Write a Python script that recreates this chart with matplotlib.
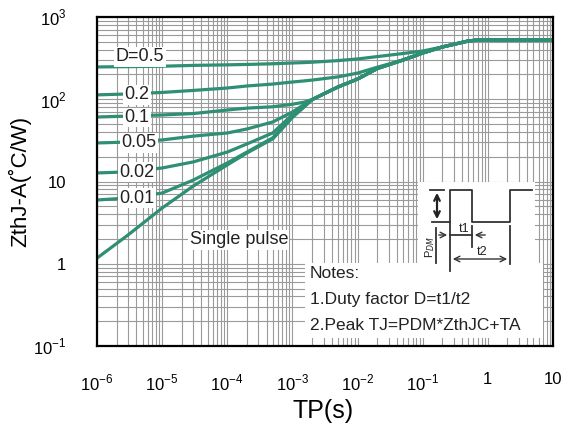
import matplotlib
matplotlib.use('Agg')
import matplotlib.pyplot as plt
import numpy as np

plt.rcParams['font.family'] = ['Liberation Sans', 'DejaVu Sans']
plt.rcParams['mathtext.fontset'] = 'custom'
plt.rcParams['mathtext.rm'] = 'Liberation Sans'

# Datos (TP en s, Zth en C/W)
tp = [1e-6, 3e-6, 1e-5, 3e-5, 1e-4, 2e-4, 5e-4, 1e-3, 1.5e-3, 2e-3, 5e-3,
      1e-2, 2e-2, 5e-2, 0.1, 0.2, 0.5, 0.7, 10]
cola = [432, 511, 525, 525]  # tramo comun a la derecha
zth_05 = [247, 249, 252, 258, 262, 265, 270, 276, 279, 282, 295, 309, 330, 360, 386] + cola
zth_02 = [113, 116, 121, 128, 137, 145, 153, 162, 167, 171, 187, 208, 245, 300, 365] + cola
zth_01 = [60.8, 62.5, 64.4, 67, 74, 78, 81, 87, 92, 99, 141, 176, 236, 300, 365] + cola
zth_005 = [29.4, 30.2, 32, 35.6, 38.9, 43.5, 53, 70, 86, 99, 141, 176, 236, 300, 365] + cola
zth_002 = [12.7, 13.1, 14.6, 17.3, 22.8, 28.6, 39, 65, 83, 99, 141, 176, 236, 300, 365] + cola
zth_001 = [5.96, 6.3, 7.24, 10.4, 16.8, 22.8, 34, 62, 81, 99, 141, 176, 236, 300, 365] + cola
zth_single = [1.17, 2.24, 4.76, 8.8, 15.9, 22.2, 33, 60, 80, 99, 141, 176, 236, 300, 365] + cola

curvas = [zth_05, zth_02, zth_01, zth_005, zth_002, zth_001, zth_single]
etiquetas = ['D=0.5', '0.2', '0.1', '0.05', '0.02', '0.01', 'Single pulse']
pos_etiquetas = [(4.6e-6, 330), (4.1e-6, 113), (4.1e-6, 60), (4.4e-6, 29.5), (4.1e-6, 13), (4.1e-6, 6.3), (1.5e-4, 1.95)]

xticks = [1e-6, 1e-5, 1e-4, 1e-3, 1e-2, 1e-1, 1, 10]
xticklabels = ['10$^{-6}$', '10$^{-5}$', '10$^{-4}$', '10$^{-3}$', '10$^{-2}$', '10$^{-1}$', '1', '10']
yticks = [0.1, 1, 10, 100, 1000]
yticklabels = ['10$^{-1}$', '1', '10', '10$^{2}$', '10$^{3}$']

notas = ['Notes:', '1.Duty factor D=t1/t2', '2.Peak TJ=PDM*ZthJC+TA']

color_linea = '#2f8f74'
color_texto = '#222222'

fig = plt.figure(figsize=(5.65, 4.37), dpi=100)
ax = fig.add_axes([97 / 565, 1 - 346 / 437, 456 / 565, 329 / 437])
ax.set_xscale('log')
ax.set_yscale('log')
ax.set_xlim(1e-6, 10)
ax.set_ylim(0.1, 1000)

# Cuadricula densa
ax.grid(True, which='both', color='#9a9a9a', linewidth=0.8)
ax.set_axisbelow(True)

for zth in curvas:
    ax.plot(tp, zth, color=color_linea, linewidth=2.3, zorder=3, solid_capstyle='butt')

for texto, (x, y) in zip(etiquetas, pos_etiquetas):
    ax.text(x, y, texto, fontsize=13, color=color_texto, ha='center', va='center', zorder=5,
            bbox=dict(facecolor='white', edgecolor='none', pad=1.0))

# Caja de notas
ax.add_patch(plt.Rectangle(((305 - 97) / 456, (346 - 338) / 329), 238 / 456, 75 / 329,
                           transform=ax.transAxes, facecolor='white', edgecolor='none', zorder=4))
for i, linea in enumerate(notas):
    ax.text((310 - 97) / 456, (346 - 273 - i * 26.5) / 329, linea, transform=ax.transAxes,
            fontsize=12.5, color=color_texto, ha='left', va='center', zorder=5)

ax.set_xticks(xticks)
ax.set_xticklabels(xticklabels)
ax.set_yticks(yticks)
ax.set_yticklabels(yticklabels)
ax.tick_params(which='both', length=0)
ax.tick_params(axis='x', pad=19, labelsize=12)
ax.tick_params(axis='y', pad=22, labelsize=12)
for spine in ax.spines.values():
    spine.set_linewidth(1.6)
    spine.set_zorder(6)

ax.set_xlabel('TP(s)', fontsize=18)
ax.set_ylabel('ZthJ-A(\u02daC/W)', fontsize=16)
ax.xaxis.set_label_coords((323 - 97) / 456, -0.16)
ax.yaxis.set_label_coords(-0.145, 0.5)

# Esquema del pulso
ins = fig.add_axes([418 / 565, 1 - 277 / 437, 117 / 565, 95 / 437])
ins.set_xlim(418, 535)
ins.set_ylim(277, 182)
ins.set_facecolor('white')
ins.set_xticks([])
ins.set_yticks([])
for spine in ins.spines.values():
    spine.set_visible(False)
k = dict(color='#333333', linewidth=1.3)
ins.plot([432, 450, 450, 472, 472, 510, 510, 532], [222, 222, 190, 190, 222, 222, 190, 190], **k)
ins.plot([450, 450], [222, 271], **k)
ins.plot([472, 472], [226, 247], **k)
ins.plot([510, 510], [226, 264], **k)
ins.plot([430, 444], [190, 190], **k)
ins.plot([436, 436], [228, 263], **k)
ins.annotate('', xy=(437, 190), xytext=(437, 222), arrowprops=dict(arrowstyle='<->', color='#222222', lw=1.6))
ins.annotate('', xy=(450, 235), xytext=(436, 235), arrowprops=dict(arrowstyle='->', color='#333333', lw=1.0))
ins.annotate('', xy=(472, 235), xytext=(488, 235), arrowprops=dict(arrowstyle='->', color='#333333', lw=1.0))
ins.plot([450, 472], [235, 235], **k)
ins.annotate('', xy=(450, 259), xytext=(510, 259), arrowprops=dict(arrowstyle='<->', color='#333333', lw=1.0))
ins.text(464, 229, 't1', fontsize=9, ha='center', va='center', color=color_texto)
ins.text(482, 252, 't2', fontsize=9, ha='center', va='center', color=color_texto)
ins.text(430, 247, 'P$_{DM}$', fontsize=8, rotation=90, ha='center', va='center', color=color_texto)

fig.savefig('out.png', dpi=100)
